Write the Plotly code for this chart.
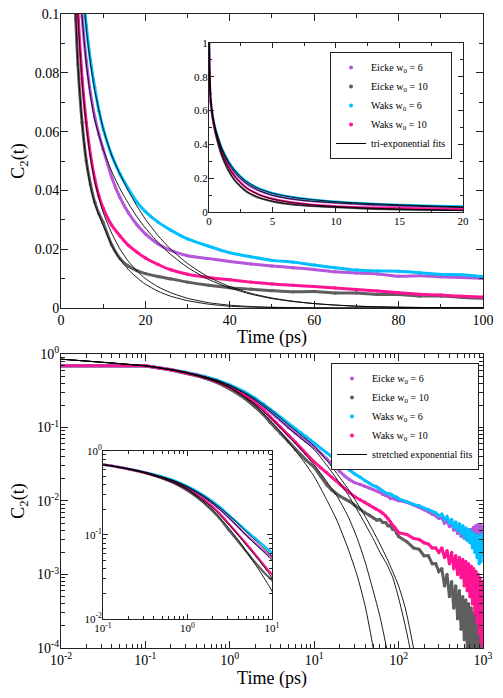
import plotly.graph_objects as go

# ---------------- data ----------------
time_ps = [0, 0.1, 0.2, 0.3, 0.4, 0.5, 0.7, 1, 1.5, 2, 2.5, 3, 3.5, 4, 5, 6, 7, 8, 9, 10,
           12, 14, 16, 18, 20, 23, 26, 30, 35, 40, 45, 50, 55, 60, 65, 70, 75, 80, 85, 90, 95, 100,
           125, 150, 175, 200, 225, 250, 275, 300, 325, 350, 375, 400, 425, 450, 475, 500,
           525, 550, 575, 600, 625, 650, 675, 700, 725, 750, 775, 800, 825, 850, 875, 900,
           925, 950, 975, 1000]

eicke_w6 = [1.0, 0.69, 0.613, 0.562, 0.522, 0.49, 0.438, 0.37, 0.29, 0.237, 0.197, 0.165, 0.142, 0.124, 0.099, 0.084, 0.073, 0.065, 0.059, 0.054,
            0.0445, 0.0375, 0.0323, 0.0283, 0.0252, 0.0218, 0.0196, 0.0178, 0.0168, 0.0158, 0.015, 0.0143, 0.0137, 0.0131, 0.0123, 0.0119, 0.0116, 0.0108, 0.011, 0.0106, 0.0104, 0.0101,
            0.0096, 0.0089, 0.0082, 0.0076, 0.0071, 0.0066, 0.0063, 0.0058, 0.0059, 0.0050, 0.0054, 0.0045, 0.0050, 0.0040, 0.0046, 0.0036,
            0.0043, 0.0033, 0.0041, 0.0031, 0.0039, 0.0030, 0.0038, 0.0031, 0.0041, 0.0032, 0.0044, 0.0034, 0.0046, 0.0035, 0.0048, 0.0034,
            0.0047, 0.0036, 0.0045, 0.0038]

eicke_w10 = [1.0, 0.685, 0.605, 0.55, 0.507, 0.47, 0.41, 0.335, 0.25, 0.19, 0.15, 0.118, 0.098, 0.083, 0.063, 0.05, 0.042, 0.036, 0.032, 0.029,
             0.0215, 0.0168, 0.0142, 0.0127, 0.0117, 0.0107, 0.0099, 0.0088, 0.0077, 0.0069, 0.0064, 0.0059, 0.0055, 0.0056, 0.0051, 0.0051, 0.0046, 0.0046, 0.0041, 0.0041, 0.0036, 0.0033,
             0.0028, 0.0023, 0.0022, 0.0018, 0.0018, 0.0014, 0.0014, 0.0011, 0.0012, 0.0007, 0.0010, 0.0005, 0.0008, 0.00035, 0.0007, 0.00025,
             0.0006, 0.00018, 0.0005, 0.00013, 0.00045, 0.0001, 0.0004, 0.0001, 0.00035, 0.0001, 0.0003, 0.0001, 0.00028, 0.0001, 0.00025, 0.0001,
             0.00022, 0.0001, 0.0002, 0.0001]

waks_w6 = [1.0, 0.69, 0.615, 0.565, 0.527, 0.495, 0.445, 0.38, 0.305, 0.25, 0.21, 0.178, 0.155, 0.137, 0.112, 0.096, 0.084, 0.075, 0.067, 0.061,
           0.052, 0.0455, 0.0405, 0.036, 0.0328, 0.0292, 0.0265, 0.0235, 0.021, 0.0188, 0.0174, 0.0162, 0.0156, 0.0146, 0.0137, 0.0129, 0.0126, 0.0125, 0.012, 0.0114, 0.0113, 0.0107,
           0.0098, 0.0090, 0.0086, 0.0080, 0.0077, 0.0071, 0.0069, 0.0063, 0.0066, 0.0056, 0.0061, 0.0050, 0.0056, 0.0044, 0.0052, 0.0040,
           0.0049, 0.0036, 0.0046, 0.0032, 0.0043, 0.0029, 0.0041, 0.0027, 0.0038, 0.0023, 0.0036, 0.0020, 0.0034, 0.0017, 0.0034, 0.0014,
           0.0031, 0.0015, 0.0035, 0.0022]

waks_w10 = [1.0, 0.69, 0.61, 0.557, 0.515, 0.48, 0.425, 0.352, 0.272, 0.215, 0.173, 0.14, 0.118, 0.101, 0.078, 0.063, 0.052, 0.044, 0.038, 0.034,
            0.0282, 0.0245, 0.0213, 0.019, 0.017, 0.0148, 0.013, 0.0115, 0.0104, 0.0096, 0.0088, 0.0082, 0.0077, 0.0073, 0.0068, 0.0063, 0.0058, 0.0052, 0.0047, 0.0044, 0.004, 0.0037,
            0.0035, 0.0031, 0.0030, 0.0027, 0.0026, 0.0023, 0.0023, 0.0020, 0.0023, 0.0017, 0.0021, 0.0014, 0.0020, 0.0012, 0.0018, 0.0010,
            0.0017, 0.0009, 0.0016, 0.0007, 0.0015, 0.0006, 0.0014, 0.0005, 0.0013, 0.0004, 0.0012, 0.0003, 0.0011, 0.00022, 0.0010, 0.00016,
            0.0009, 0.00012, 0.0008, 0.0001]

# tri-exponential fits (top panel)
fit_time_tri = [0, 0.1, 0.2, 0.3, 0.5, 0.7, 1, 1.5, 2, 2.5, 3, 4, 5, 6, 7, 8, 10, 12, 14, 16, 18, 20,
                23, 26, 30, 35, 40, 45, 50, 55, 60, 65, 70, 75, 80, 90, 100]
tri_eicke_w6 = [1.0, 0.70, 0.617, 0.562, 0.49, 0.437, 0.37, 0.292, 0.238, 0.198, 0.167, 0.125, 0.099, 0.083, 0.072, 0.064, 0.054,
                0.0465, 0.0405, 0.0355, 0.031, 0.0272, 0.0223, 0.0182, 0.0138, 0.0097, 0.0068, 0.0047, 0.0032,
                0.0022, 0.0015, 0.001, 0.0006, 0.0004, 0.00025, 0.0001, 0.00004]
tri_eicke_w10 = [1.0, 0.695, 0.607, 0.55, 0.47, 0.41, 0.336, 0.25, 0.19, 0.15, 0.12, 0.083, 0.063, 0.05, 0.041, 0.0355, 0.028,
                 0.0215, 0.0165, 0.013, 0.0103, 0.0081, 0.0057, 0.004, 0.0025, 0.0013, 0.0006, 0.0003, 0.00015,
                 0.00007, 0.00003, 0.00001, 0.0, 0.0, 0.0, 0.0, 0.0]
tri_waks_w6 = [1.0, 0.70, 0.62, 0.566, 0.495, 0.444, 0.379, 0.303, 0.249, 0.209, 0.178, 0.136, 0.111, 0.095, 0.083, 0.074, 0.061,
               0.052, 0.0455, 0.0397, 0.0347, 0.0302, 0.0246, 0.02, 0.0151, 0.0105, 0.0073, 0.005, 0.0034,
               0.0023, 0.0015, 0.001, 0.00065, 0.00042, 0.00027, 0.00011, 0.00005]
tri_waks_w10 = [1.0, 0.70, 0.612, 0.556, 0.48, 0.424, 0.352, 0.27, 0.213, 0.172, 0.14, 0.1, 0.077, 0.062, 0.051, 0.043, 0.0325,
                0.0255, 0.02, 0.0158, 0.0126, 0.01, 0.0072, 0.0052, 0.0033, 0.0018, 0.00095, 0.0005, 0.00026,
                0.00013, 0.00007, 0.00003, 0.00002, 0.00001, 0.0, 0.0, 0.0]

# stretched exponential fits (bottom panel)
fit_time_str = [0.01, 0.1, 0.2, 0.3, 0.5, 0.7, 1, 1.5, 2, 3, 4, 5, 7, 10, 14, 18.5, 25, 32, 40, 50, 60, 72, 85, 100,
                120, 136, 150, 170]
str_eicke_w6 = [0.85, 0.69, 0.614, 0.562, 0.487, 0.435, 0.368, 0.29, 0.235, 0.165, 0.124, 0.098, 0.071, 0.05, 0.031, 0.020,
                0.0123, 0.0077, 0.0049, 0.00307, 0.00202, 0.0014, 0.00092, 0.00048, 0.0002, 0.0001, 0.00005, 0.000015]
str_eicke_w10 = [0.85, 0.685, 0.607, 0.552, 0.472, 0.415, 0.345, 0.255, 0.198, 0.125, 0.087, 0.063, 0.0385, 0.0215, 0.0105, 0.0055,
                 0.0023, 0.001, 0.00038, 0.0001, 0.00002, 0.000003, 4e-7, 3e-8, 1e-9, 1e-10, 1e-11, 1e-12]
str_waks_w6 = [0.85, 0.69, 0.617, 0.566, 0.492, 0.441, 0.377, 0.299, 0.245, 0.176, 0.135, 0.108, 0.079, 0.056, 0.036, 0.0238,
               0.0148, 0.0095, 0.0062, 0.0039, 0.0026, 0.0017, 0.0011, 0.0007, 0.00035, 0.00018, 0.0001, 0.00004]
str_waks_w10 = [0.85, 0.69, 0.61, 0.556, 0.478, 0.423, 0.353, 0.265, 0.208, 0.137, 0.099, 0.075, 0.05, 0.031, 0.0185, 0.0118,
                0.0063, 0.0032, 0.0015, 0.0006, 0.00027, 0.0001, 0.00003, 0.000006, 5e-7, 5e-8, 5e-9, 1e-10]

series_names = ["Eicke w<sub>0</sub> = 6", "Eicke w<sub>0</sub> = 10", "Waks w<sub>0</sub> = 6", "Waks w<sub>0</sub> = 10"]
series_values = [eicke_w6, eicke_w10, waks_w6, waks_w10]
series_colors = ["#b657db", "#5e5e5e", "#00bfff", "#ff1493"]
tri_fits = [tri_eicke_w6, tri_eicke_w10, tri_waks_w6, tri_waks_w10]
str_fits = [str_eicke_w6, str_eicke_w10, str_waks_w6, str_waks_w10]

x_ticks_top = [0, 20, 40, 60, 80, 100]
y_ticks_top = [0, 0.02, 0.04, 0.06, 0.08, 0.1]
x_ticks_top_inset = [0, 5, 10, 15, 20]
y_ticks_top_inset = [0, 0.2, 0.4, 0.6, 0.8, 1]
x_ticks_log = [0.01, 0.1, 1, 10, 100, 1000]
x_labels_log = ["10<sup>-2</sup>", "10<sup>-1</sup>", "10<sup>0</sup>", "10<sup>1</sup>", "10<sup>2</sup>", "10<sup>3</sup>"]
y_ticks_log = [0.0001, 0.001, 0.01, 0.1, 1]
y_labels_log = ["10<sup>-4</sup>", "10<sup>-3</sup>", "10<sup>-2</sup>", "10<sup>-1</sup>", "10<sup>0</sup>"]
x_ticks_log_inset = [0.1, 1, 10]
x_labels_log_inset = ["10<sup>-1</sup>", "10<sup>0</sup>", "10<sup>1</sup>"]
y_ticks_log_inset = [0.01, 0.1, 1]
y_labels_log_inset = ["10<sup>-2</sup>", "10<sup>-1</sup>", "10<sup>0</sup>"]

FONT = "Liberation Serif, Times New Roman, Times, serif"

fig = go.Figure()

panels = [
    # xaxis, yaxis, data line width, marker size, data line shape, fit kind
    ("x", "y", 3.0, 3.4, "spline", "tri"),
    ("x2", "y2", 2.2, 0, "spline", "tri"),
    ("x3", "y3", 3.0, 3.4, "linear", "str"),
    ("x4", "y4", 2.2, 0, "spline", "str"),
]

for xa, ya, lw, ms, shape, fitkind in panels:
    for name, vals, col in zip(series_names, series_values, series_colors):
        fig.add_trace(go.Scatter(
            x=time_ps, y=vals, xaxis=xa, yaxis=ya, name=name, showlegend=False,
            mode="lines+markers" if ms else "lines",
            line=dict(color=col, width=lw, shape=shape, smoothing=0.6),
            marker=dict(color=col, size=ms), hoverinfo="skip"))
    if fitkind == "tri":
        ft, fits = fit_time_tri, tri_fits
    else:
        ft, fits = fit_time_str, str_fits
    for fv in fits:
        fig.add_trace(go.Scatter(
            x=ft, y=fv, xaxis=xa, yaxis=ya, mode="lines", showlegend=False,
            line=dict(color="black", width=0.9, shape="spline", smoothing=0.6), hoverinfo="skip"))

# legend entries
for lg, fitname in (("legend", "tri-exponential fits"), ("legend2", "stretched exponential fits")):
    xa, ya = ("x2", "y2") if lg == "legend" else ("x3", "y3")
    for name, col in zip(series_names, series_colors):
        fig.add_trace(go.Scatter(x=[None], y=[None], xaxis=xa, yaxis=ya, mode="markers", name=name,
                                 marker=dict(color=col, size=4), legend=lg))
    fig.add_trace(go.Scatter(x=[None], y=[None], xaxis=xa, yaxis=ya, mode="lines", name=fitname,
                             line=dict(color="black", width=1), legend=lg))


def ax(**kw):
    d = dict(showline=True, linecolor="#222", linewidth=1, mirror="allticks", ticks="inside",
             tickcolor="#222", showgrid=False, zeroline=False, ticklen=7, automargin=False,
             ticklabeloverflow="allow",
             tickfont=dict(family=FONT, size=14, color="black"))
    d.update(kw)
    return d


title_font = dict(family=FONT, size=18, color="black")
inset_font = dict(family=FONT, size=11, color="black")
minor_main = dict(ticklen=4, ticks="inside", tickcolor="#222")
minor_inset = dict(ticklen=3, ticks="inside", tickcolor="#222")

# the page adds an 8px body margin, so the figure is drawn 8px in from the top-left corner
W, H = 495, 682

fig.update_layout(
    width=W, height=H, margin=dict(l=0, r=0, t=0, b=0, autoexpand=False),
    paper_bgcolor="white", plot_bgcolor="white",
    font=dict(family=FONT, color="black"),
    xaxis=ax(domain=[0.10707, 0.95960], anchor="y", range=[0, 100], tickmode="array", tickvals=x_ticks_top,
             minor=dict(dtick=10, **minor_main), ticklabelstandoff=-1,
             title=dict(text="Time (ps)", font=title_font, standoff=3)),
    yaxis=ax(domain=[0.56012, 0.99120], anchor="x", range=[0, 0.1], tickmode="array", tickvals=y_ticks_top,
             minor=dict(dtick=0.01, **minor_main), ticklabelstandoff=-2,
             title=dict(text="C<sub>2</sub>(t)", font=title_font, standoff=10)),
    xaxis2=ax(domain=[0.40606, 0.91919], anchor="y2", range=[0, 20], tickmode="array", tickvals=x_ticks_top_inset,
              ticklen=5, tickfont=inset_font, minor=dict(dtick=2.5, **minor_inset), ticklabelstandoff=-1),
    yaxis2=ax(domain=[0.70088, 0.94868], anchor="x2", range=[0, 1], tickmode="array", tickvals=y_ticks_top_inset,
              ticklen=5, tickfont=inset_font, minor=dict(dtick=0.1, **minor_inset), ticklabelstandoff=-2),
    xaxis3=ax(domain=[0.10707, 0.95960], anchor="y3", type="log", range=[-2, 3], tickmode="array",
              tickvals=x_ticks_log, ticktext=x_labels_log, minor=dict(dtick="D1", **minor_main),
              ticklabelstandoff=-1,
              title=dict(text="Time (ps)", font=title_font, standoff=3)),
    yaxis3=ax(domain=[0.06158, 0.49267], anchor="x3", type="log", range=[-4, 0], tickmode="array",
              tickvals=y_ticks_log, ticktext=y_labels_log, minor=dict(dtick="D1", **minor_main),
              ticklabelstandoff=-2,
              title=dict(text="C<sub>2</sub>(t)", font=title_font, standoff=10)),
    xaxis4=ax(domain=[0.19192, 0.53333], anchor="y4", type="log", range=[-1, 1], tickmode="array",
              tickvals=x_ticks_log_inset, ticktext=x_labels_log_inset, ticklen=5, tickfont=inset_font,
              minor=dict(dtick="D1", **minor_inset), ticklabelstandoff=-1),
    yaxis4=ax(domain=[0.10411, 0.35044], anchor="x4", type="log", range=[-2, 0], tickmode="array",
              tickvals=y_ticks_log_inset, ticktext=y_labels_log_inset, ticklen=5, tickfont=inset_font,
              minor=dict(dtick="D1", **minor_inset), ticklabelstandoff=-2),
    legend=dict(x=0.897, y=0.9355, xanchor="right", yanchor="top", bgcolor="white", bordercolor="#222",
                borderwidth=1, font=dict(family=FONT, size=10, color="black"), tracegroupgap=0,
                itemwidth=30),
    legend2=dict(x=0.9515, y=0.4795, xanchor="right", yanchor="top", bgcolor="white", bordercolor="#222",
                 borderwidth=1, font=dict(family=FONT, size=10, color="black"), tracegroupgap=0,
                 itemwidth=30),
)

fig.write_html("out.html")
